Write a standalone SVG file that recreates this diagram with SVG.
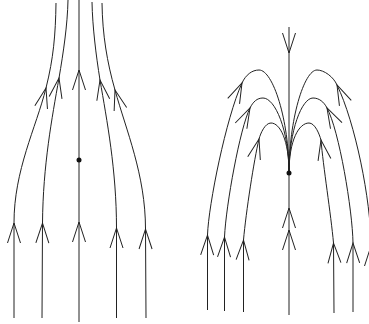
<svg xmlns="http://www.w3.org/2000/svg" width="369" height="324" viewBox="0 0 369 324">
<style>
.f{fill:none;stroke:#222;stroke-width:1}
.a{marker-mid:url(#v)}
.d{fill:#111}
</style>
<defs>
<marker id="v" markerUnits="userSpaceOnUse" orient="auto" refX="0" refY="0" markerWidth="1" markerHeight="1" overflow="visible">
<path d="M-20,-6.5 L0,0 L-20,6.5" fill="none" stroke="#222" stroke-width="1"/>
</marker>
</defs>
<rect width="369" height="324" fill="#fff"/>
<g id="left-portrait">
<g id="left-flow">
<path class="f a" d="M14,318 L14,223 C14,170 36,128 46,88 C53.5,58 55.5,35 56,3"/>
<path class="f a" d="M42,318 L42.5,223 C43,165 52,118 59,78 C63.3,53 67.5,25 68,0"/>
<path class="f a" d="M79,322 L79,222 L79,70 L79,0"/>
<path class="f a" d="M116.5,318 L116.5,228 C116.5,170 106.8,120 100,80 C96,55 92.5,27 92,2"/>
<path class="f a" d="M146,318 L145.5,229 C145.5,175 126,130 115,90 C107,62 102.5,35 102,3"/>
</g>
<g id="left-point"><circle class="d" cx="79" cy="160" r="2.5"/></g>
</g>
<g id="right-portrait">
<g id="right-flow">
<path class="f a" d="M289,27 L289,53 L289,173"/>
<path class="f a" d="M289,315 L289,230 L289,208 L289,173"/>
<path class="f a" d="M207.5,310 L207.5,235 C208.5,205 226,118 242,83 C245.8,74.8 252,70 259,70"/>
<path class="f" d="M259,70 C273,70 289,120 289,173"/>
<path class="f a" d="M224.5,311 L224.5,237 C226,205 240,128 250,108 C253.1,101.8 257,98 263,98"/>
<path class="f" d="M263,98 C275,98 289,130 289,173"/>
<path class="f a" d="M243.5,312 L243.5,240 C246,212 254,160 259,139 C260.6,133.2 265,123 271,123"/>
<path class="f" d="M271,123 C280,123 289,140 289,173"/>
<path class="f a" d="M334,313 L333.5,243 C331,215 323,165 321,140 C319.4,134.2 315,123 309,123"/>
<path class="f" d="M309,123 C299,123 289,140 289,173"/>
<path class="f a" d="M353,312 L353,243 C352.5,210 339,130 327,108 C323.9,101.8 319,98 313,98"/>
<path class="f" d="M313,98 C302,98 289,130 289,173"/>
<path class="f a" d="M371,320 L371,246 C371,200 355,122 337,85 C333.4,76.7 324,70 317,70"/>
<path class="f" d="M317,70 C304,70 289,120 289,173"/>
</g>
<g id="right-point"><circle class="d" cx="289" cy="173" r="2.5"/></g>
</g>
</svg>
